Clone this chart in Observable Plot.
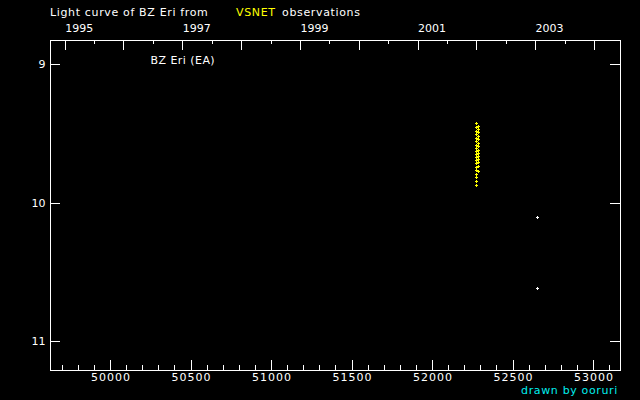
<!DOCTYPE html>
<html><head><meta charset="utf-8">
<script src="https://cdn.jsdelivr.net/npm/d3@7"></script>
<script src="https://cdn.jsdelivr.net/npm/@observablehq/plot@0.6"></script>
<style>
html,body{margin:0;padding:0;background:#000;}
#wrap{position:relative;width:640px;height:400px;overflow:hidden;font-family:"DejaVu Sans",sans-serif;font-size:11px;}
#chart{position:absolute;left:0;top:0;}
.t{position:absolute;line-height:11px;white-space:pre;letter-spacing:0.65px;}
.xl text{letter-spacing:1px;}
.nm text{letter-spacing:0.45px;}
</style></head><body>
<div id="wrap">
<div id="chart"></div>
<span class="t" style="left:50px;top:7px;color:#fff">Light curve of BZ Eri from</span>
<span class="t" style="left:236px;top:7px;color:#ffff00">VSNET</span>
<span class="t" style="left:282px;top:7px;color:#fff">observations</span>
<span class="t" style="right:22px;top:385px;color:#00eeee">drawn by ooruri</span>
</div>
<script>
// Data (JD - 2400000, magnitude)
const yellowJD = [
  52273, 52273, 52273, 52273, 52273, 52273, 52273, 52273, 52273, 52273,
  52273, 52273, 52273, 52273, 52273, 52273, 52273, 52273, 52273,
  52285, 52285, 52285, 52285, 52285, 52285, 52285, 52285, 52285, 52285,
  52285, 52285, 52285, 52285
];
const yellowMag = [
  9.426, 9.455, 9.484, 9.505, 9.534, 9.556, 9.585, 9.606, 9.628, 9.650,
  9.671, 9.693, 9.715, 9.744, 9.765, 9.794, 9.816, 9.845, 9.874,
  9.448, 9.469, 9.491, 9.520, 9.542, 9.570, 9.592, 9.621, 9.643, 9.664,
  9.686, 9.708, 9.736, 9.773
];
const whiteJD = [52652, 52652];
const whiteMag = [10.105, 10.617];

const bottomMajor = [50000, 50500, 51000, 51500, 52000, 52500, 53000];
const bottomLabels = ["50000", "50500", "51000", "51500", "52000", "52500", "53000"];
const bottomMinor = [49700, 49800, 49900, 50100, 50200, 50300, 50400, 50600, 50700, 50800, 50900,
  51100, 51200, 51300, 51400, 51600, 51700, 51800, 51900, 52100, 52200, 52300, 52400,
  52600, 52700, 52800, 52900, 53100];
const yearJD = [49718.5, 50083.5, 50449.5, 50814.5, 51179.5, 51544.5, 51910.5, 52275.5, 52640.5, 53005.5];
const halfYearJD = [49901, 50266, 50632, 50997, 51362, 51727, 52093, 52458, 52823];
const yearLabelJD = [49718.5, 50449.5, 51179.5, 51910.5, 52640.5];
const yearLabels = ["1995", "1997", "1999", "2001", "2003"];
const yTicks = [9, 10, 11];
const yLabels = ["9", "10", "11"];

const yellow = yellowJD.map((jd, i) => ({jd, mag: yellowMag[i]}));
const white = whiteJD.map((jd, i) => ({jd, mag: whiteMag[i]}));

const plusSym = {draw(ctx) { const r = 1.5; ctx.moveTo(-r, 0); ctx.lineTo(r, 0); ctx.moveTo(0, -r); ctx.lineTo(0, r); }};

const W = 640, H = 400, ML = 50, MR = 20, MT = 40, MB = 30;
const PW = W - ML - MR, PH = H - MT - MB;

const chart = Plot.plot({
  width: W, height: H,
  marginLeft: ML, marginRight: MR, marginTop: MT, marginBottom: MB,
  style: {background: "#000", color: "#fff", fontFamily: "DejaVu Sans, sans-serif", fontSize: "11px", overflow: "visible"},
  x: {domain: [49627.3, 53167.7], axis: null},
  y: {domain: [8.8267, 11.2094], reverse: true, axis: null},
  marks: [
    Plot.frame({stroke: "#fff", shapeRendering: "crispEdges"}),
    Plot.tickX(bottomMajor, {x: d => d, stroke: "#fff", insetTop: PH - 10, shapeRendering: "crispEdges"}),
    Plot.tickX(bottomMinor, {x: d => d, stroke: "#fff", insetTop: PH - 5, shapeRendering: "crispEdges"}),
    Plot.tickX(yearJD, {x: d => d, stroke: "#fff", insetBottom: PH - 10, shapeRendering: "crispEdges"}),
    Plot.tickX(halfYearJD, {x: d => d, stroke: "#fff", insetBottom: PH - 4, shapeRendering: "crispEdges"}),
    Plot.tickY(yTicks, {y: d => d, stroke: "#fff", insetRight: PW - 10, shapeRendering: "crispEdges"}),
    Plot.tickY(yTicks, {y: d => d, stroke: "#fff", insetLeft: PW - 10, shapeRendering: "crispEdges"}),
    Plot.text(bottomMajor, {x: d => d, text: (d, i) => bottomLabels[i], frameAnchor: "bottom",
      textAnchor: "middle", lineAnchor: "top", dy: 3, dx: 0.5, fill: "#fff", fontSize: 11, className: "xl"}),
    Plot.text(yTicks, {y: d => d, text: (d, i) => yLabels[i], frameAnchor: "left",
      textAnchor: "end", lineAnchor: "middle", dx: -5, fill: "#fff", fontSize: 11}),
    Plot.text(yearLabelJD, {x: d => d, text: (d, i) => yearLabels[i], frameAnchor: "top",
      textAnchor: "start", lineAnchor: "middle", dy: -12, fill: "#fff", fontSize: 11}),
    Plot.text(["BZ Eri (EA)"], {frameAnchor: "top-left", text: d => d, dx: 100, dy: 20,
      textAnchor: "start", lineAnchor: "middle", fill: "#fff", fontSize: 11, className: "nm"}),
    Plot.dot(yellow, {x: "jd", y: "mag", symbol: plusSym, fill: "none", stroke: "#ffff00", strokeWidth: 1, shapeRendering: "crispEdges"}),
    Plot.dot(white, {x: "jd", y: "mag", symbol: plusSym, fill: "none", stroke: "#fff", strokeWidth: 1, shapeRendering: "crispEdges"})
  ]
});
document.getElementById("chart").appendChild(chart);
</script>
</body></html>
